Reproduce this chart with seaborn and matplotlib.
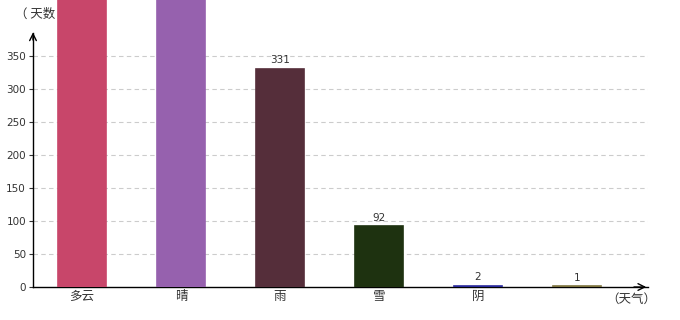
import matplotlib
matplotlib.use("Agg")
import matplotlib.pyplot as plt
import seaborn as sns
import pandas as pd

categories = ["多云", "晴", "雨", "雪", "阴", ""]
values = [1200, 1100, 331, 92, 2, 1]
colors = ["#C8466A", "#9661AE", "#552E3A", "#1E3210", "#2A2A9C", "#7E7440"]
yticks = [0, 50, 100, 150, 200, 250, 300, 350]

sns.set_theme(style="white")
plt.rcParams["font.family"] = ["Noto Sans CJK SC", "DejaVu Sans"]

df = pd.DataFrame({"cat": [c if c else " " for c in categories], "val": values})

fig = plt.figure(figsize=(6.8, 3.2), dpi=100)
ax = fig.add_axes([33/680, 1 - 287/320, (648 - 33)/680, 287/320])

sns.barplot(data=df, x="cat", y="val", hue="cat", palette=colors, width=0.48,
            legend=False, ax=ax, saturation=1, zorder=3)
for p in ax.patches:
    p.set_edgecolor(p.get_facecolor())
    p.set_linewidth(1.2)

ymax = 287 / 33 * 50
ax.set_ylim(0, ymax)
ax.set_xlim(-0.495, 5.72)

ax.set_yticks(yticks)
ax.set_yticklabels([str(v) for v in yticks], fontsize=7.5, color="#333333",
                   family="DejaVu Sans")
ax.tick_params(axis="y", length=3, width=0.8, color="#333333", pad=2, left=True)
ax.tick_params(axis="x", length=0, pad=2)
ax.set_xticks(range(len(categories)))
ax.set_xticklabels(categories, fontsize=9, color="#333333")
ax.set_xlabel("")
ax.set_ylabel("")

for y in yticks[1:]:
    ax.axhline(y, color="#CCCCCC", lw=0.8, ls=(0, (4, 3)), zorder=1)

for s in ["top", "right"]:
    ax.spines[s].set_visible(False)
ax.spines["left"].set_bounds(0, 385)
ax.spines["left"].set_color("black")
ax.spines["bottom"].set_color("black")
ax.spines["left"].set_linewidth(1)
ax.spines["bottom"].set_linewidth(1)

# arrows
ax.annotate("", xy=(-0.495, 390), xytext=(-0.495, 370),
            arrowprops=dict(arrowstyle="->", color="black", lw=1), annotation_clip=False)
ax.annotate("", xy=(5.73, 0), xytext=(5.55, 0),
            arrowprops=dict(arrowstyle="->", color="black", lw=1), annotation_clip=False)

for i, v in enumerate(values):
    if v < 380:
        ax.text(i, v + 5, str(v), ha="center", va="bottom", fontsize=7.5,
                color="#333333", family="DejaVu Sans", zorder=4)

ax.text(-0.40, 413, "（ 天数 ）", ha="center", va="center", fontsize=9,
        color="#333333", zorder=1, clip_on=False)
ax.text(5.55, -19, "（天气）", ha="center", va="center", fontsize=9,
        color="#333333", clip_on=False)

fig.savefig("out.png", dpi=100)
